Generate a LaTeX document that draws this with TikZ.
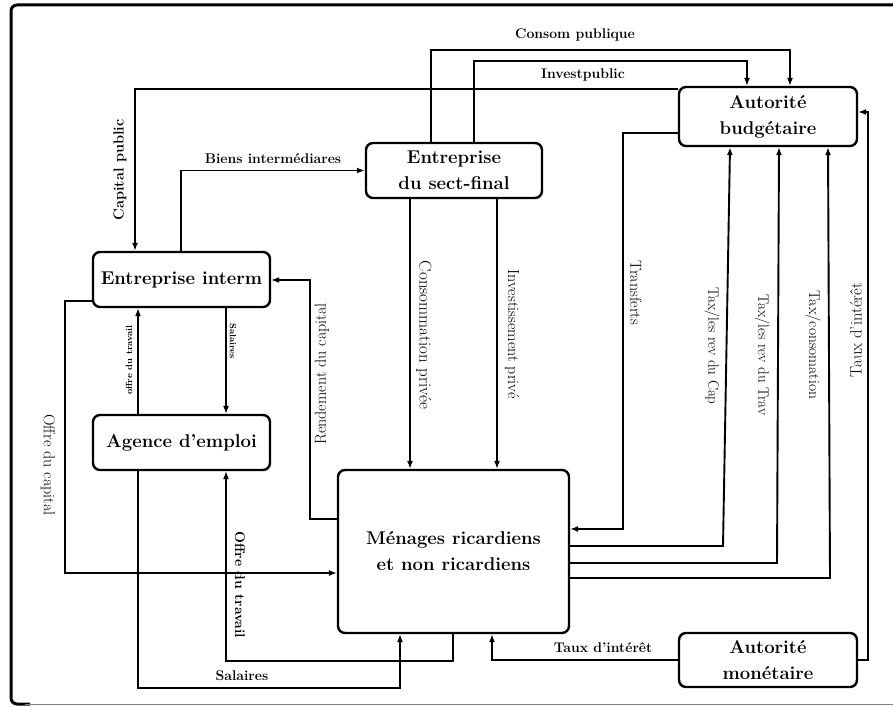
\documentclass[tikz,border=0pt]{standalone}
\usetikzlibrary{arrows.meta}
\begin{document}
\begin{tikzpicture}[x=1pt,y=-1pt,
  box/.style={draw,line width=2.4pt,rounded corners=7pt,align=center,inner sep=0pt,
    font=\fontsize{18.5}{26}\selectfont\bfseries},
  conn/.style={line width=1.3pt,-{Latex[length=8pt,width=6pt]}},
  thickconn/.style={conn,line width=1.9pt},
  hlab/.style={font=\fontsize{14}{16}\selectfont\bfseries,inner sep=1pt},
  vlab/.style={font=\fontsize{16}{18}\selectfont,inner sep=1pt,rotate=-90},
  ulab/.style={font=\fontsize{16}{18}\selectfont,inner sep=1pt,rotate=90},
  slab/.style={font=\fontsize{9}{10}\selectfont\bfseries,inner sep=1pt}]
\useasboundingbox (0,0) rectangle (893,706);
% frame
\draw[line width=3pt,rounded corners=6pt] (893,5) -- (11,5) -- (11,704) -- (30,704);
\draw[line width=1pt,gray] (25,704.5) -- (893,704.5);
% nodes
\node[box,minimum width=176pt,minimum height=55pt] (F) at (454,170.5) {Entreprise\\du sect-final};
\node[box,minimum width=178pt,minimum height=59pt] (AB) at (768,116.5) {Autorité\\budgétaire};
\node[box,minimum width=177pt,minimum height=55pt] (EI) at (181.5,279.5) {Entreprise interm};
\node[box,minimum width=177pt,minimum height=55pt] (AE) at (181.5,442.5) {Agence d’emploi};
\node[box,minimum width=231pt,minimum height=163pt] (M) at (453.5,551.5) {Ménages ricardiens\\et non ricardiens};
\node[box,minimum width=178pt,minimum height=54pt] (AM) at (768,660) {Autorité\\monétaire};
% connectors
\draw[thickconn] (AB.west |- 0,89) -| (135,0 |- EI.north);
\node[ulab,font=\fontsize{14.5}{16}\selectfont\bfseries] (lcp) at (120,170) {Capital public};
\draw[thickconn] (181,0 |- EI.north) |- (F.west);
\node[hlab] (lbi) at (273,159) {Biens intermédiares};
\draw[conn] (431,0 |- F.north) |- (790,50) -- (790,0 |- AB.north);
\node[hlab] (lcpub) at (575,35) {Consom publique};
\draw[conn] (474,0 |- F.north) |- (747,61) -- (747,0 |- AB.north);
\node[hlab] (lip) at (583,75) {Investpublic};
\draw[conn] (410,0 |- F.south) -- (410,0 |- M.north);
\node[vlab,font=\fontsize{17}{18}\selectfont] (lcons) at (424,335) {Consommation privée};
\draw[conn] (497,0 |- F.south) -- (497,0 |- M.north);
\node[vlab] (linv) at (512,334) {Investissement privé};
\draw[conn] (AB.west |- 0,133) -| (623,529) -- (M.east |- 0,529);
\node[vlab] (ltr) at (636,293) {Transferts};
\draw[thickconn] (M.east |- 0,546) -- (723,546) -- (730,0 |- AB.south);
\node[vlab,font=\fontsize{15}{18}\selectfont] (ltc) at (712,346) {Tax/les rev du Cap};
\draw[thickconn] (M.east |- 0,563) -- (777,563) -- (779,0 |- AB.south);
\node[vlab,font=\fontsize{15}{18}\selectfont] (ltt) at (762,355) {Tax/les rev du Trav};
\draw[thickconn] (M.east |- 0,578) -- (830,578) -- (828,0 |- AB.south);
\node[vlab,font=\fontsize{15.5}{18}\selectfont] (ltco) at (813,345) {Tax/consomation};
\draw[conn] (AM.east |- 0,660) -| (868,112) -- (AB.east |- 0,112);
\node[ulab,font=\fontsize{16.5}{18}\selectfont] (ltx1) at (856,330) {Taux d’intérêt};
\draw[conn] (M.west |- 0,519) -| (310,280) -- (EI.east |- 0,280);
\node[ulab] (lrc) at (322,374) {Rendement du capital};
\draw[conn] (EI.west |- 0,301) -| (65,573) -- (M.west |- 0,573);
\node[vlab] (loc) at (48,465) {Offre du capital};
\draw[conn] (138,0 |- AE.north) -- (138,0 |- EI.south);
\node[slab,rotate=90] (lot1) at (129,360) {offre du travail};
\draw[conn] (226,0 |- EI.south) -- (226,0 |- AE.north);
\node[slab,rotate=-90] (ls1) at (233,341) {Salaires};
\draw[conn] (453,0 |- M.south) |- (226,661) -- (226,0 |- AE.south);
\node[vlab,font=\fontsize{14}{16}\selectfont\bfseries] (lot2) at (240,585) {Offre du travail};
\draw[conn] (138,0 |- AE.south) |- (400,688) -- (400,0 |- M.south);
\node[hlab] (ls2) at (242,676) {Salaires};
\draw[conn] (AM.west |- 0,660) -| (492,0 |- M.south);
\node[hlab] (ltx2) at (603,648) {Taux d’intérêt};
\end{tikzpicture}
\end{document}
